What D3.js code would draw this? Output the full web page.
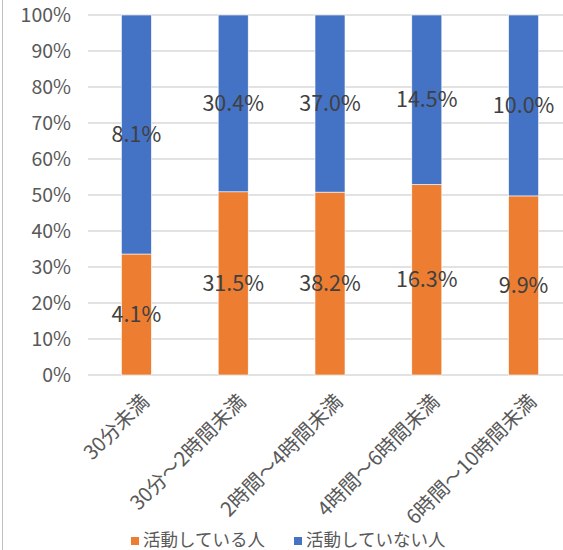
<!DOCTYPE html>
<html>
<head>
<meta charset="utf-8">
<script src="https://cdn.jsdelivr.net/npm/d3@7"></script>
<style>
  html, body { margin: 0; padding: 0; background: #fff; }
  svg { display: block; }
  text { font-family: "Noto Sans CJK JP", "Noto Sans", sans-serif; }
</style>
</head>
<body>
<svg id="chart" width="563" height="550"></svg>
<script>
// Time bands and the share of people in each activity group
const categories = ["30分未満", "30分～2時間未満", "2時間～4時間未満", "4時間～6時間未満", "6時間～10時間未満"];
const activeValues = [4.1, 31.5, 38.2, 16.3, 9.9];
const inactiveValues = [8.1, 30.4, 37.0, 14.5, 10.0];
const seriesNames = ["活動している人", "活動していない人"];
const seriesColors = ["#ED7D31", "#4472C4"];
const yTicks = [0, 0.1, 0.2, 0.3, 0.4, 0.5, 0.6, 0.7, 0.8, 0.9, 1.0];

const svg = d3.select("#chart");
const W = 563, H = 550;
const margin = { left: 88, right: -9, top: 15, bottom: 175 };
const plotW = W - margin.left - margin.right;
const plotH = H - margin.top - margin.bottom;

// outer chart frame edge on the left
svg.append("line")
  .attr("x1", 2.5).attr("x2", 2.5).attr("y1", 0).attr("y2", H)
  .attr("stroke", "#bfbfbf").attr("stroke-width", 1);

const g = svg.append("g").attr("transform", `translate(${margin.left},${margin.top})`);

const x = d3.scaleBand().domain(categories).range([0, plotW]).paddingInner(0.69).paddingOuter(0.345);
const y = d3.scaleLinear().domain([0, 1]).range([plotH, 0]);

// rows normalised to 100%
const rows = categories.map((c, i) => {
  const total = activeValues[i] + inactiveValues[i];
  return { cat: c, active: activeValues[i] / total, inactive: inactiveValues[i] / total,
           activeLabel: activeValues[i], inactiveLabel: inactiveValues[i] };
});
const stack = d3.stack().keys(["active", "inactive"]);
const stacked = stack(rows);

// gridlines
g.append("g").selectAll("line").data(yTicks).join("line")
  .attr("x1", 0).attr("x2", plotW)
  .attr("y1", d => y(d)).attr("y2", d => y(d))
  .attr("stroke", "#d9d9d9").attr("stroke-width", 1.3);

// y axis labels
const yAxis = d3.axisLeft(y).tickValues(yTicks).tickFormat(d3.format(".0%")).tickSize(0).tickPadding(17);
const ya = g.append("g").call(yAxis);
ya.select(".domain").remove();
ya.selectAll("text").attr("font-size", 19.5).attr("fill", "#595959")
  .style("font-family", '"Noto Sans CJK JP", sans-serif');

// bars
stacked.forEach((layer, li) => {
  g.append("g").selectAll("rect").data(layer).join("rect")
    .attr("x", d => x(d.data.cat))
    .attr("width", x.bandwidth())
    .attr("y", d => y(d[1]))
    .attr("height", d => y(d[0]) - y(d[1]))
    .attr("fill", seriesColors[li])
    .attr("stroke", "#fff").attr("stroke-width", 0.6);
});

// data labels centred in each segment
stacked.forEach((layer, li) => {
  g.append("g").selectAll("text").data(layer).join("text")
    .attr("x", d => x(d.data.cat) + x.bandwidth() / 2)
    .attr("y", d => (y(d[0]) + y(d[1])) / 2)
    .attr("dy", "0.35em")
    .attr("text-anchor", "middle")
    .attr("font-size", 21.5)
    .attr("fill", "#404040")
    .text(d => d3.format(".1f")(li === 0 ? d.data.activeLabel : d.data.inactiveLabel) + "%");
});

// category labels rotated 45°
g.append("g").selectAll("text").data(categories).join("text")
  .attr("transform", d => `translate(${x(d) + x.bandwidth() / 2 + 9},${plotH + 23}) rotate(-45)`)
  .attr("text-anchor", "end")
  .attr("dy", "0.35em")
  .attr("font-size", 20)
  .attr("fill", "#595959")
  .text(d => d);

// legend
const legend = svg.append("g");
const legendX = [131, 294];
seriesNames.forEach((name, i) => {
  legend.append("rect").attr("x", legendX[i]).attr("y", 537).attr("width", 8).attr("height", 8)
    .attr("fill", seriesColors[i]);
  legend.append("text").attr("x", legendX[i] + 12).attr("y", 540).attr("dy", "0.35em")
    .attr("font-size", 17.5).attr("fill", "#595959").text(name);
});
</script>
</body>
</html>
